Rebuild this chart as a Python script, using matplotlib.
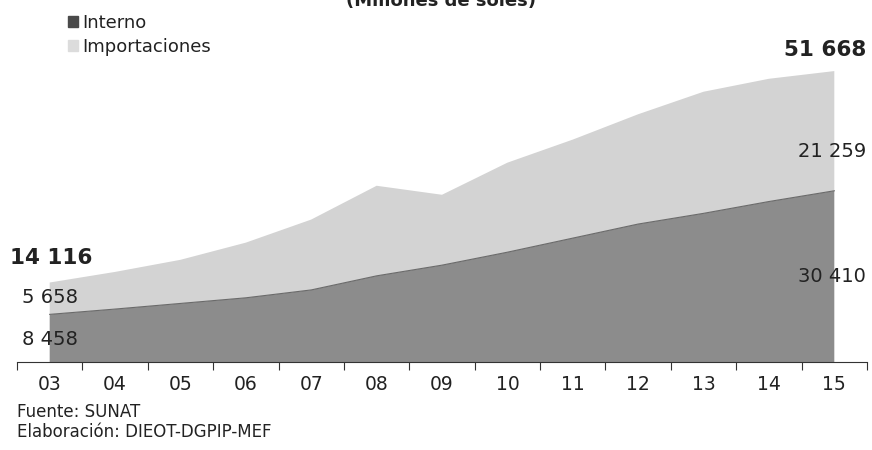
import numpy as np
import matplotlib.pyplot as plt
from matplotlib.patches import Patch

plt.rcParams['font.family'] = ['DejaVu Sans']

# IGV recaudado (millones de soles)
anios = ['03', '04', '05', '06', '07', '08', '09', '10', '11', '12', '13', '14', '15']
interno = [8458, 9400, 10400, 11400, 12800, 15300, 17200, 19500, 22000, 24500, 26400, 28500, 30410]
importaciones = [5658, 6600, 7750, 9800, 12500, 16000, 12500, 15900, 17500, 19500, 21600, 21800, 21259]

col_int = '#8c8c8c'
col_imp = '#d3d3d3'
col_txt = '#222222'

x = np.arange(len(anios))
interno = np.array(interno)
importaciones = np.array(importaciones)
total = interno + importaciones

fig = plt.figure(figsize=(8.72, 4.5), dpi=100)
ax = fig.add_axes([17 / 872, 88 / 450, 850 / 872, 312 / 450])

ax.stackplot(x, interno, importaciones, colors=[col_int, col_imp], linewidth=0)
ax.plot(x, interno, color='#6a6a6a', lw=0.8)

ax.set_xlim(-0.5, len(anios) - 0.5)
ax.set_ylim(0, 312 * 177.6)

for s in ['top', 'right', 'left']:
    ax.spines[s].set_visible(False)
ax.spines['bottom'].set_color('#333333')
ax.set_yticks([])
ax.set_xticks(np.arange(len(anios) + 1) - 0.5)
ax.set_xticklabels([])
ax.set_xticks(x, minor=True)
ax.set_xticklabels(anios, minor=True, fontsize=13.5, color=col_txt)
ax.tick_params(axis='x', which='major', length=6, color='#333333')
ax.tick_params(axis='x', which='minor', length=0, pad=9)


def fmt(v):
    return f"{v:,}".replace(',', ' ')


# totales y componentes en los extremos
ax.text(-0.61, total[0] + 4350, fmt(14116), fontsize=15.5, fontweight='bold',
        color=col_txt, ha='left', va='center')
ax.text(12.49, total[-1] + 3700, fmt(51668), fontsize=15.5, fontweight='bold',
        color=col_txt, ha='right', va='center')
ax.text(-0.42, interno[0] + importaciones[0] / 2 + 200, fmt(importaciones[0]), fontsize=14,
        color=col_txt, ha='left', va='center')
ax.text(-0.42, interno[0] / 2 - 320, fmt(interno[0]), fontsize=14,
        color=col_txt, ha='left', va='center')
ax.text(12.49, interno[-1] + importaciones[-1] / 2 - 3700, fmt(importaciones[-1]), fontsize=14,
        color=col_txt, ha='right', va='center')
ax.text(12.49, interno[-1] / 2 - 100, fmt(interno[-1]), fontsize=14,
        color=col_txt, ha='right', va='center')

handles = [Patch(color='#4a4a4a', label='Interno'), Patch(color='#dcdcdc', label='Importaciones')]
fig.legend(handles=handles, loc='upper left', bbox_to_anchor=(68 / 872, 1 - 14 / 450),
           frameon=False, fontsize=13, handlelength=0.55, handleheight=0.55,
           handletextpad=0.25, labelspacing=0.32, borderpad=0, borderaxespad=0,
           labelcolor=col_txt)

fig.text(441 / 872, 1 - 6 / 450, '(Millones de soles)', fontsize=13, fontweight='bold',
         ha='center', va='baseline', color=col_txt)

fig.text(17 / 872, 1 - 412 / 450, 'Fuente: SUNAT', fontsize=12, va='center', color=col_txt)
fig.text(17 / 872, 1 - 432 / 450, 'Elaboración: DIEOT-DGPIP-MEF', fontsize=12,
         va='center', color=col_txt)

fig.savefig('out.png', dpi=100)
